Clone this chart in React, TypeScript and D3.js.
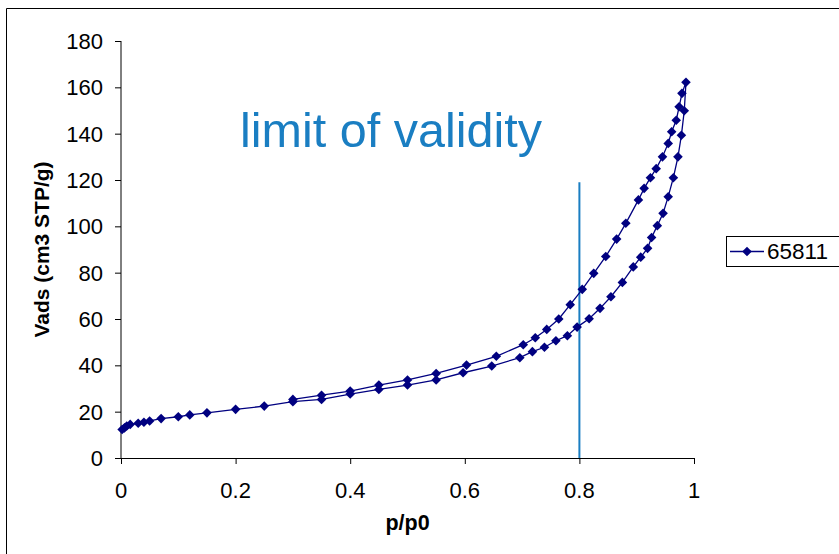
import React from "react";
import * as d3 from "d3";

const adsX = [0.002, 0.006, 0.01, 0.016, 0.03, 0.04, 0.05, 0.07, 0.1, 0.12, 0.15, 0.2, 0.25, 0.3, 0.35, 0.4, 0.45, 0.5, 0.55, 0.597, 0.647, 0.696, 0.718, 0.739, 0.759, 0.779, 0.796, 0.817, 0.836, 0.855, 0.875, 0.894, 0.907, 0.919, 0.926, 0.936, 0.946, 0.955, 0.964, 0.972, 0.978, 0.983, 0.986];
const adsY = [12.3, 13.0, 13.8, 14.5, 15.0, 15.4, 16.0, 17.0, 17.8, 18.6, 19.5, 21.0, 22.4, 24.3, 25.3, 27.6, 29.6, 31.5, 33.7, 36.8, 39.7, 43.3, 45.9, 47.8, 50.6, 52.8, 56.5, 60.1, 64.6, 69.6, 75.8, 82.5, 86.7, 90.5, 95.2, 100.3, 105.6, 112.8, 121.0, 130.0, 139.3, 149.9, 162.2];
const desX = [0.979, 0.974, 0.969, 0.961, 0.955, 0.945, 0.934, 0.924, 0.913, 0.903, 0.881, 0.865, 0.846, 0.825, 0.805, 0.784, 0.764, 0.743, 0.723, 0.702, 0.655, 0.603, 0.55, 0.5, 0.45, 0.4, 0.35, 0.3];
const desY = [157.4, 151.6, 145.8, 140.8, 135.8, 130.0, 124.9, 121.0, 116.4, 111.4, 101.3, 94.5, 87.0, 79.7, 72.8, 66.2, 60.0, 55.5, 51.9, 48.9, 43.9, 40.1, 36.5, 33.7, 31.5, 28.9, 27.1, 25.3];

const seriesName = "65811";
const xTicks = [0, 0.2, 0.4, 0.6, 0.8, 1];
const yTicks = [0, 20, 40, 60, 80, 100, 120, 140, 160, 180];
const limitX = 0.8;
const limitTop = 119;
const annotation = "limit of validity";
const xTitle = "p/p0";
const yTitle = "Vads (cm3 STP/g)";

const W = 839;
const H = 554;
const left = 121, right = 694, top = 41, bottom = 458;

export default function App() {
  const x = d3.scaleLinear().domain([0, 1]).range([left, right]);
  const y = d3.scaleLinear().domain([0, 180]).range([bottom, top]);
  const pts: [number, number][] = [
    ...adsX.map((v, i) => [v, adsY[i]] as [number, number]),
    ...desX.map((v, i) => [v, desY[i]] as [number, number]),
  ];
  const line = d3.line<[number, number]>().x((d) => x(d[0])).y((d) => y(d[1]));
  const diamond = "M0,-4.8L4.8,0L0,4.8L-4.8,0Z";
  const font = "Liberation Sans, Arial, sans-serif";
  const navy = "#000080";
  const blue = "#1a7ec2";
  return (
    <svg width={W} height={H} style={{ position: "absolute", left: 0, top: 0, background: "#fff" }} fontFamily={font}>
      <rect x={0} y={0} width={W} height={H} fill="#fff" />
      <path d={`M6.5,${H + 5}V8.5H${W + 5}`} fill="none" stroke="#000" strokeWidth={1} />
      {/* axes */}
      <line x1={left} x2={left} y1={top} y2={bottom} stroke="#000" />
      <line x1={left} x2={right} y1={bottom + 0.5} y2={bottom + 0.5} stroke="#000" />
      {yTicks.map((t) => (
        <g key={"y" + t}>
          <line x1={left - 6} x2={left} y1={y(t) + 0.5} y2={y(t) + 0.5} stroke="#000" />
          <text x={103} y={y(t) + 8} textAnchor="end" fontSize={22}>{t}</text>
        </g>
      ))}
      {xTicks.map((t) => (
        <g key={"x" + t}>
          <line x1={x(t) + 0.5} x2={x(t) + 0.5} y1={bottom} y2={bottom + 6} stroke="#000" />
          <text x={x(t)} y={498} textAnchor="middle" fontSize={22}>{t}</text>
        </g>
      ))}
      <text x={(left + right) / 2} y={530} textAnchor="middle" fontSize={21.5} fontWeight="bold">{xTitle}</text>
      <text transform={`translate(49,${(top + bottom) / 2}) rotate(-90)`} textAnchor="middle" fontSize={21} fontWeight="bold">{yTitle}</text>
      {/* limit line */}
      <line x1={x(limitX)} x2={x(limitX)} y1={y(0)} y2={y(limitTop)} stroke={blue} strokeWidth={2} />
      <text x={391} y={147} textAnchor="middle" fontSize={48.5} fill={blue}>{annotation}</text>
      {/* series */}
      <path d={line(pts) || ""} fill="none" stroke={navy} strokeWidth={1.3} />
      {pts.map((p, i) => (
        <path key={i} d={diamond} transform={`translate(${x(p[0])},${y(p[1])})`} fill={navy} />
      ))}
      {/* legend */}
      <rect x={726.5} y={236.5} width={130} height={30} fill="#fff" stroke="#000" />
      <line x1={730} x2={764} y1={251.5} y2={251.5} stroke={navy} strokeWidth={1.3} />
      <path d={diamond} transform="translate(747,251.5)" fill={navy} />
      <text x={767} y={259} fontSize={22.5}>{seriesName}</text>
    </svg>
  );
}
